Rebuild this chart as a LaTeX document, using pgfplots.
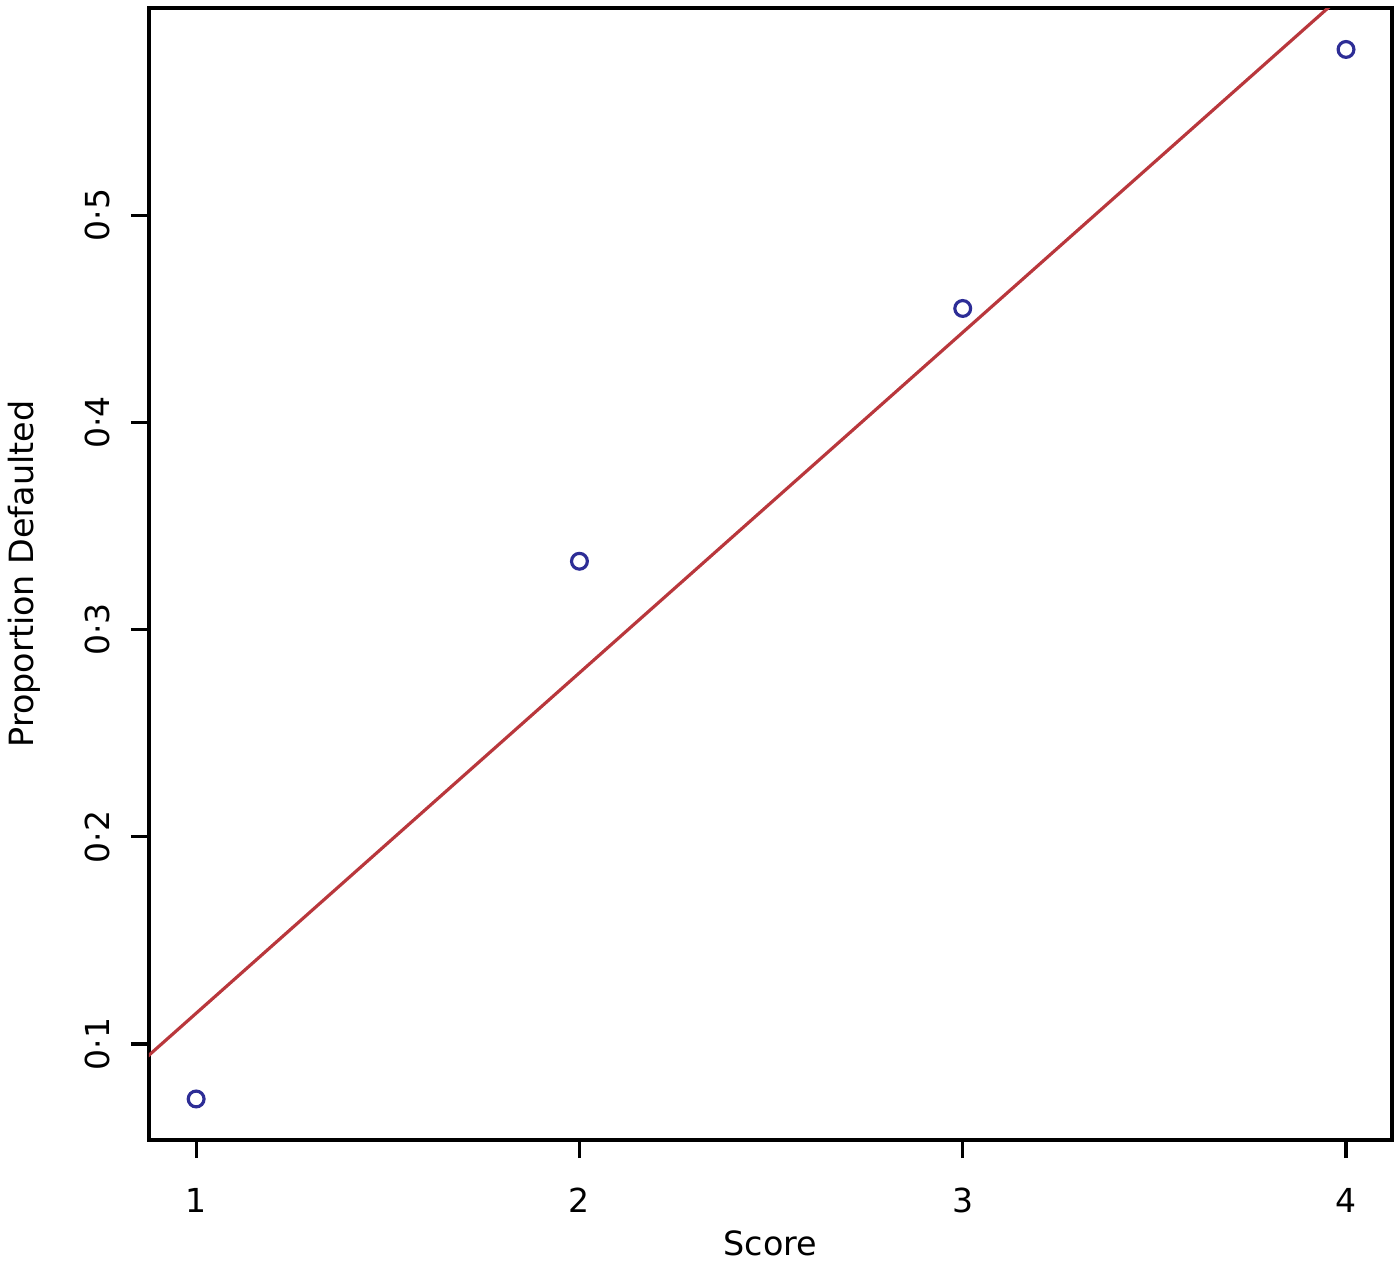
\documentclass[border=0pt]{standalone}
\usepackage{fontspec}
\setmainfont{DejaVu Sans}
\usepackage{pgfplots}
\pgfplotsset{compat=1.18}
\usetikzlibrary{calc}
\definecolor{ptblue}{RGB}{45,45,150}
\definecolor{fitred}{RGB}{185,55,60}

\begin{document}
\begin{tikzpicture}
\begin{axis}[
    scale only axis,
    width=12.43cm, height=11.32cm,
    xmin=0.877, xmax=4.12,
    ymin=0.0537, ymax=0.6,
    xtick={1,2,3,4},
    xticklabels={1,2,3,4},
    ytick={0.1,0.2,0.3,0.4,0.5},
    yticklabels={0·1,0·2,0·3,0·4,0·5},
    xtick pos=left, ytick pos=left,
    tick align=outside,
    major tick length=0.18cm,
    tick style={black, line width=0.9pt},
    axis line style={black, line width=0.9pt},
    tick label style={font=\fontsize{9.4}{11}\selectfont},
    xticklabel style={anchor=center, yshift=-0.42cm},
    yticklabel style={rotate=90, anchor=center, yshift=0.34cm},
    xlabel={Score},
    ylabel={Proportion Defaulted},
    label style={font=\fontsize{9.5}{11}\selectfont},
    xlabel style={at={(rel axis cs:0.5,0)}, anchor=center, yshift=-1.03cm},
    ylabel style={at={(rel axis cs:0,0.5)}, anchor=center, yshift=1.25cm},
    clip=true,
]
\addplot[fitred, line width=0.9pt] coordinates {(0.8,0.0820) (4.2,0.6406)};
\addplot[only marks, mark=o, mark size=2.25pt, mark options={ptblue, line width=0.9pt}]
  coordinates {(1,0.0735) (2,0.333) (3,0.455) (4,0.580)};
\coordinate (bl) at (rel axis cs:0,0);
\coordinate (tr) at (rel axis cs:1,1);
\end{axis}
\pgfresetboundingbox
\path[use as bounding box] ($(bl)+(-1.49cm,-1.21cm)$) rectangle ($(tr)+(0.08cm,0.08cm)$);
\end{tikzpicture}
\end{document}
